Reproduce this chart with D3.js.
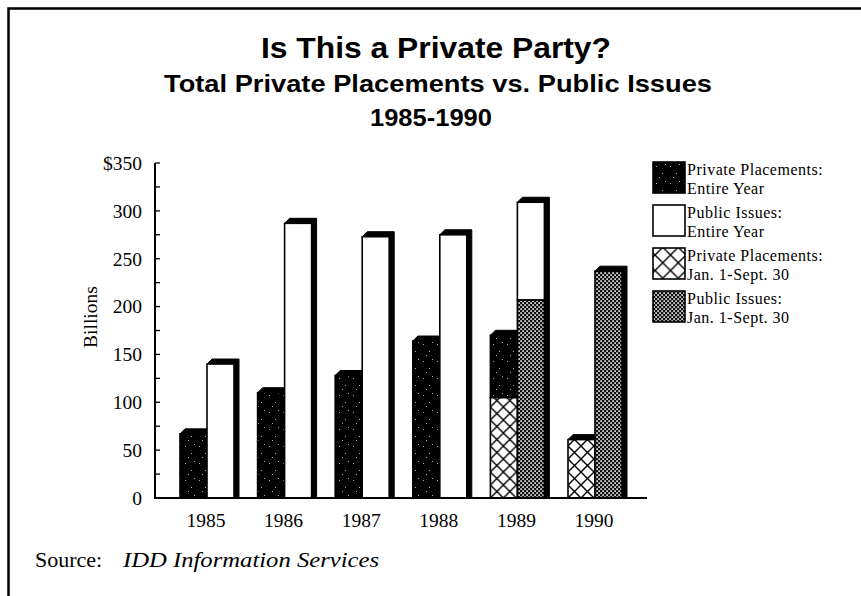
<!DOCTYPE html>
<html>
<head>
<meta charset="utf-8">
<script src="https://cdn.jsdelivr.net/npm/d3@7/dist/d3.min.js"></script>
<style>
  html, body { margin: 0; padding: 0; background: #fff; }
  svg { display: block; }
</style>
</head>
<body>
<svg id="chart" width="861" height="596"></svg>
<script>
// ---- Data ----
const years = ["1985", "1986", "1987", "1988", "1989", "1990"];
const privateFullYear = [67, 110, 128, 164, 170, null];
const publicFullYear = [140, 287, 273, 275, 309, null];
const privateJanSept = [null, null, null, null, 105, 61];
const publicJanSept = [null, null, null, null, 207, 237];
const yTicks = [0, 50, 100, 150, 200, 250, 300, 350];
const yMinorTicks = d3.range(0, 351, 25);
const legendItems = [
  { key: "privFull", lines: ["Private Placements:", "Entire Year"] },
  { key: "pubFull", lines: ["Public Issues:", "Entire Year"] },
  { key: "privPart", lines: ["Private Placements:", "Jan. 1-Sept. 30"] },
  { key: "pubPart", lines: ["Public Issues:", "Jan. 1-Sept. 30"] }
];

// ---- Setup ----
const svg = d3.select("#chart");
const serif = "'Liberation Serif', 'Times New Roman', Times, serif";
const sans = "'Liberation Sans', Arial, Helvetica, sans-serif";

const y = d3.scaleLinear().domain([0, 350]).range([498, 163]);
const x = d3.scaleBand().domain(years).range([168.2, 633.8]).paddingInner(0).paddingOuter(0);
const barW = 27;
const sh = 5; // shadow offset

const defs = svg.append("defs");

// speckle pattern for dark bars
const speck = defs.append("pattern").attr("id", "speck")
  .attr("patternUnits", "userSpaceOnUse").attr("width", 14).attr("height", 17);
speck.append("rect").attr("width", 14).attr("height", 17).attr("fill", "#000");
[[3, 4], [9, 11], [6, 15], [12, 2]].forEach(p =>
  speck.append("rect").attr("x", p[0]).attr("y", p[1]).attr("width", 1).attr("height", 1).attr("fill", "#aaa"));

// stipple pattern for public Jan-Sept
const stip = defs.append("pattern").attr("id", "stipple")
  .attr("patternUnits", "userSpaceOnUse").attr("width", 4).attr("height", 4);
stip.append("rect").attr("width", 4).attr("height", 4).attr("fill", "#111");
stip.append("rect").attr("x", 0.3).attr("y", 0.3).attr("width", 1.6).attr("height", 1.6).attr("fill", "#fff");
stip.append("rect").attr("x", 2.3).attr("y", 2.3).attr("width", 1.6).attr("height", 1.6).attr("fill", "#fff");

function crossPattern(id, ox, oy, size) {
  const p = defs.append("pattern").attr("id", id)
    .attr("patternUnits", "userSpaceOnUse")
    .attr("x", ox).attr("y", oy).attr("width", size).attr("height", size);
  p.append("rect").attr("width", size).attr("height", size).attr("fill", "#fff");
  p.append("path").attr("d", `M0,0L${size},${size}M${size},0L0,${size}M-1,1L1,-1M${size-1},${size+1}L${size+1},${size-1}`)
    .attr("stroke", "#000").attr("stroke-width", 1.4);
  return `url(#${id})`;
}

// ---- Frame ----
svg.append("path").attr("d", "M8.5,596V8.5H861").attr("fill", "none").attr("stroke", "#000").attr("stroke-width", 2.5);

// ---- Titles ----
const cx = 436;
svg.append("text").attr("x", cx).attr("y", 58).attr("text-anchor", "middle")
  .attr("font-family", sans).attr("font-weight", "bold").attr("font-size", 29)
  .attr("textLength", 350).attr("lengthAdjust", "spacingAndGlyphs")
  .text("Is This a Private Party?");
svg.append("text").attr("x", cx + 2).attr("y", 92).attr("text-anchor", "middle")
  .attr("font-family", sans).attr("font-weight", "bold").attr("font-size", 24)
  .attr("textLength", 548).attr("lengthAdjust", "spacingAndGlyphs")
  .text("Total Private Placements vs. Public Issues");
svg.append("text").attr("x", cx - 5).attr("y", 126).attr("text-anchor", "middle")
  .attr("font-family", sans).attr("font-weight", "bold").attr("font-size", 24)
  .attr("textLength", 122).attr("lengthAdjust", "spacingAndGlyphs")
  .text("1985-1990");

// ---- Bars ----
const g = svg.append("g");

function column(xLeft, segments) {
  const top = d3.max(segments, s => s.to);
  const yt = y(top), y0 = y(0);
  g.append("path")
    .attr("d", `M${xLeft},${yt}L${xLeft + sh},${yt - sh}L${xLeft + barW + sh},${yt - sh}L${xLeft + barW + sh},${y0}L${xLeft + barW},${y0}Z`)
    .attr("fill", "#000").attr("stroke", "#000").attr("stroke-width", 1);
  segments.forEach(s => {
    g.append("rect")
      .attr("x", xLeft).attr("y", y(s.to))
      .attr("width", barW).attr("height", y(s.from) - y(s.to))
      .attr("fill", s.fill).attr("stroke", "#000").attr("stroke-width", 1.6);
  });
}

years.forEach((yr, i) => {
  const c = x(yr) + x.bandwidth() / 2;
  const pSeg = [];
  if (privateJanSept[i] != null) {
    pSeg.push({ from: 0, to: privateJanSept[i], fill: crossPattern("cross" + i, c - barW, y(0), 13) });
    if (privateFullYear[i] != null) pSeg.push({ from: privateJanSept[i], to: privateFullYear[i], fill: "url(#speck)" });
  } else if (privateFullYear[i] != null) {
    pSeg.push({ from: 0, to: privateFullYear[i], fill: "url(#speck)" });
  }
  const uSeg = [];
  if (publicJanSept[i] != null) {
    uSeg.push({ from: 0, to: publicJanSept[i], fill: "url(#stipple)" });
    if (publicFullYear[i] != null) uSeg.push({ from: publicJanSept[i], to: publicFullYear[i], fill: "#fff" });
  } else if (publicFullYear[i] != null) {
    uSeg.push({ from: 0, to: publicFullYear[i], fill: "#fff" });
  }
  column(c - barW, pSeg);
  column(c, uSeg);
});

// ---- Axes ----
const yAxisG = svg.append("g").attr("transform", "translate(155,0)");
yAxisG.append("line").attr("x1", 0).attr("x2", 0).attr("y1", y(350)).attr("y2", y(0))
  .attr("stroke", "#000").attr("stroke-width", 2);
yAxisG.selectAll("line.minor").data(yMinorTicks).enter().append("line")
  .attr("class", "minor").attr("x1", 0).attr("x2", 5)
  .attr("y1", d => y(d)).attr("y2", d => y(d)).attr("stroke", "#000").attr("stroke-width", 1.3);
yAxisG.selectAll("text").data(yTicks).enter().append("text")
  .attr("x", -13).attr("y", d => y(d)).attr("dy", "0.35em")
  .attr("text-anchor", "end").attr("font-family", serif).attr("font-size", 19.5)
  .text(d => d === 350 ? "$350" : d);

svg.append("line").attr("x1", 154).attr("x2", 647).attr("y1", y(0)).attr("y2", y(0))
  .attr("stroke", "#000").attr("stroke-width", 2);

svg.selectAll("text.xlab").data(years).enter().append("text")
  .attr("class", "xlab")
  .attr("x", d => x(d) + x.bandwidth() / 2 - 1).attr("y", 527)
  .attr("text-anchor", "middle").attr("font-family", serif).attr("font-size", 19.5)
  .text(d => d);

svg.append("text").attr("transform", "translate(97,317) rotate(-90)")
  .attr("text-anchor", "middle").attr("font-family", serif).attr("font-size", 19.5)
  .text("Billions");

// ---- Legend ----
const lg = svg.append("g").attr("transform", "translate(653,162)");
legendItems.forEach((it, i) => {
  const gy = i * 43;
  let fill;
  if (it.key === "privFull") fill = "url(#speck)";
  else if (it.key === "pubFull") fill = "#fff";
  else if (it.key === "privPart") fill = crossPattern("crossLeg", 653, 162 + gy, 15.5);
  else fill = "url(#stipple)";
  lg.append("rect").attr("x", 0).attr("y", gy).attr("width", 32).attr("height", 31)
    .attr("fill", fill).attr("stroke", "#000").attr("stroke-width", 1.6);
  it.lines.forEach((ln, j) => {
    lg.append("text").attr("x", 34).attr("y", gy + 13 + j * 18.5)
      .attr("font-family", serif).attr("font-size", 16).attr("letter-spacing", 0.5)
      .text(ln);
  });
});

// ---- Source ----
const src = svg.append("text").attr("y", 567)
  .attr("font-family", serif).attr("font-size", 22);
src.append("tspan").attr("x", 35).text("Source:");
src.append("tspan").attr("x", 123).attr("font-style", "italic")
  .attr("textLength", 256).attr("lengthAdjust", "spacingAndGlyphs")
  .text("IDD Information Services");
</script>
</body>
</html>
